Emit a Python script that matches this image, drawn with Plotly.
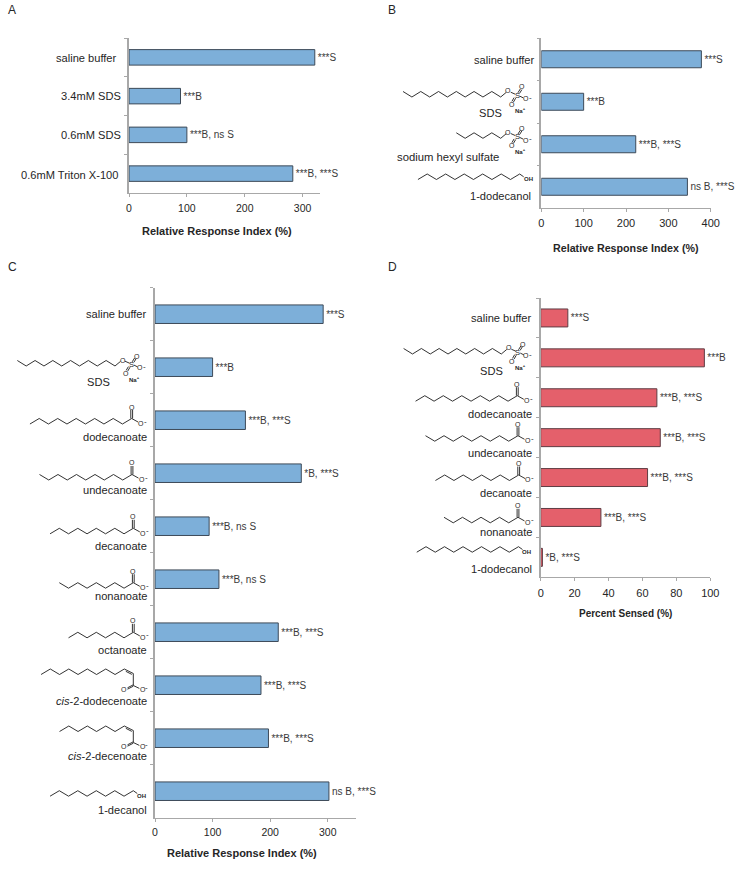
import plotly.graph_objects as go

W, H = 755, 872
FONT = "Liberation Sans, Arial, sans-serif"
BLUE, RED = "#7dafd9", "#e4606b"
EDGE_BLUE, EDGE_RED = "#3d4a58", "#5e3d44"
AXIS = "#a8a8a8"
INK = "#262626"

categories_a = ["saline buffer", "3.4mM SDS", "0.6mM SDS", "0.6mM Triton X-100"]
values_a = [321, 89, 100, 283]
notes_a = ["***S", "***B", "***B, ns S", "***B, ***S"]

categories_b = ["saline buffer", "SDS", "sodium hexyl sulfate", "1-dodecanol"]
values_b = [378, 100, 223, 345]
notes_b = ["***S", "***B", "***B, ***S", "ns B, ***S"]

categories_c = ["saline buffer", "SDS", "dodecanoate", "undecanoate", "decanoate", "nonanoate",
                "octanoate", "<i>cis</i>-2-dodecenoate", "<i>cis</i>-2-decenoate", "1-decanol"]
values_c = [292, 100, 157, 254, 94, 111, 214, 184, 197, 302]
notes_c = ["***S", "***B", "***B, ***S", "*B, ***S", "***B, ns S", "***B, ns S",
           "***B, ***S", "***B, ***S", "***B, ***S", "ns B, ***S"]

categories_d = ["saline buffer", "SDS", "dodecanoate", "undecanoate", "decanoate", "nonanoate", "1-dodecanol"]
values_d = [16, 96.5, 68.5, 70.5, 63, 35.5, 1]
notes_d = ["***S", "***B", "***B, ***S", "***B, ***S", "***B, ***S", "***B, ***S", "*B, ***S"]

ticks_a = [0, 100, 200, 300]
ticks_b = [0, 100, 200, 300, 400]
ticks_c = [0, 100, 200, 300]
ticks_d = [0, 20, 40, 60, 80, 100]
axis_title = "Relative Response Index (%)"
axis_title_d = "Percent Sensed (%)"


def px(x):
    return x / W


def py(y):
    return 1 - y / H


fig = go.Figure()
shapes, notes = [], []


def panel(idx, cats, vals, labels, color, edge, gap, xr, ticks, xpx, ypx, tick_size):
    sx = "" if idx == 1 else str(idx)
    fig.add_trace(go.Bar(
        y=cats, x=vals, orientation="h", text=labels, textposition="outside", cliponaxis=False,
        constraintext="none", textangle=0,
        textfont=dict(family=FONT, size=10, color="#3a3a3a"),
        marker=dict(color=color, line=dict(color=edge, width=1)),
        xaxis="x" + sx, yaxis="y" + sx, showlegend=False, hoverinfo="skip"))
    fig.update_layout(**{
        "xaxis" + sx: dict(domain=[px(xpx[0]), px(xpx[1])], range=xr, tickmode="array", tickvals=ticks,
                           showgrid=False, zeroline=False, showline=True, linecolor=AXIS, linewidth=1,
                           ticks="outside", ticklen=3, tickcolor=AXIS, ticklabelstandoff=2,
                           tickfont=dict(family=FONT, size=tick_size, color=INK), anchor="y" + sx),
        "yaxis" + sx: dict(domain=[py(ypx[1]), py(ypx[0])], type="category", categoryorder="array",
                           categoryarray=cats, autorange="reversed", tickson="boundaries",
                           showgrid=False, zeroline=False, showline=True, linecolor=AXIS, linewidth=1.5,
                           ticks="outside", ticklen=3, tickcolor=AXIS, showticklabels=False,
                           anchor="x" + sx),
    })
    fig.data[-1].width = 1 - gap


def text(x, y, s, size=11.1, anchor="center", color=INK, bold=False):
    notes.append(dict(x=px(x), y=py(y), xref="paper", yref="paper", text=f"<b>{s}</b>" if bold else s,
                      showarrow=False, xanchor=anchor, yanchor="middle", borderpad=0, borderwidth=0,
                      font=dict(family=FONT, size=size, color=color)))


def line(pts, width=0.9):
    path = "M " + " L ".join(f"{px(a):.5f} {py(b):.5f}" for a, b in pts)
    shapes.append(dict(type="path", path=path, xref="paper", yref="paper",
                       line=dict(color="#1c1c1c", width=width), layer="above"))


def zigzag(x, y, bonds, dx=9.25, dy=5.5, odd_up=False):
    sign = -1 if odd_up else 1
    return [(x - i * dx, y + (sign * dy if i % 2 else 0)) for i in range(bonds + 1)]


def atom(x, y, s, size=7):
    text(x, y, s, size=size)


def carboxylate(x, y, bonds):
    line(zigzag(x, y, bonds))
    line([(x - 0.9, y), (x - 0.9, y - 8.5)])
    line([(x + 0.9, y), (x + 0.9, y - 8.5)])
    line([(x, y), (x + 6.5, y + 3.6)])
    atom(x, y - 11.5, "O")
    atom(x + 9.5, y + 4.8, "O")
    atom(x + 14.2, y + 2.6, "-", 8)


def sulfate(x, y, bonds):
    line(zigzag(x, y, bonds, dx=8.88, odd_up=True))
    line([(x, y), (x + 5.5, y - 4.6)])
    atom(x + 7.6, y - 6, "O")
    line([(x + 10, y - 4.8), (x + 14.5, y - 2.8)])
    atom(x + 16.5, y - 2, "S", 7.5)
    line([(x + 17.2, y - 4.2), (x + 19.6, y - 8)])
    line([(x + 18.8, y - 3.6), (x + 21.2, y - 7.4)])
    atom(x + 21.5, y - 10, "O")
    line([(x + 19, y - 0.9), (x + 22.6, y + 0.9)])
    atom(x + 25, y + 1.8, "O")
    atom(x + 29.6, y + 0.2, "-", 8)
    line([(x + 13.4, y + 0.6), (x + 11.2, y + 4.4)])
    line([(x + 15, y + 1.2), (x + 12.8, y + 5)])
    atom(x + 11, y + 7.2, "O")
    text(x + 19.4, y + 13, "<b>Na<sup>+</sup></b>", size=6)


def alcohol(x, y, bonds):
    line(zigzag(x, y, bonds))
    line([(x, y), (x + 4, y + 2.8)])
    text(x + 8.4, y + 5, "<b>OH</b>", size=6)


def enoate(x, y, bonds):
    line(zigzag(x, y, bonds))
    line([(x, y), (x + 9, y + 4.5), (x + 9, y + 16.5)])
    line([(x + 1.5, y + 2.3), (x + 7.5, y + 5.4)])
    line([(x + 9, y + 15.8), (x + 3.2, y + 18.8)])
    line([(x + 9, y + 17.2), (x + 3.2, y + 20.2)])
    line([(x + 9, y + 16.5), (x + 15, y + 19.4)])
    atom(x + 0.2, y + 20.6, "O")
    atom(x + 18.4, y + 20.6, "O")
    atom(x + 22.6, y + 18.6, "-", 8)


panel(1, categories_a, values_a, notes_a, BLUE, EDGE_BLUE, 0.6, [0, 330], ticks_a, (129, 320), (38, 193), 10.5)
panel(2, categories_b, values_b, notes_b, BLUE, EDGE_BLUE, 0.6, [0, 400], ticks_b, (541.3, 710.7), (38, 208), 11)
panel(3, categories_c, values_c, notes_c, BLUE, EDGE_BLUE, 0.65, [0, 349], ticks_c, (155, 356), (287.7, 817.7), 10.5)
panel(4, categories_d, values_d, notes_d, RED, EDGE_RED, 0.55, [0, 100], ticks_d, (540.7, 710.3), (298, 577.3), 11)

# Panel letters and axis titles
for x, y, s in [(12, 10, "A"), (392, 10, "B"), (12, 267, "C"), (392, 267, "D")]:
    text(x, y, s, size=12)
text(217.5, 230.7, axis_title, size=11, bold=True)
text(625.5, 248, axis_title, size=10.7, bold=True)
text(242, 853, axis_title, size=11, bold=True)
text(625, 613, axis_title_d, size=10, bold=True)

# Category labels
for c, y, r in zip(categories_a, [57.5, 96.5, 135.5, 174.5], [117, 121, 121, 118]):
    text(r, y, c, anchor="right")
text(535.3, 59.5, categories_b[0], anchor="right")
text(490.3, 113.3, categories_b[1])
text(498.5, 157, categories_b[2], size=11.3, anchor="right")
text(531.3, 195.7, categories_b[3], anchor="right")
for c, y in zip(categories_c, [314, 382.3, 437.3, 489.7, 546, 596.3, 649.7, 701, 756, 809.7]):
    if c == "SDS":
        text(98.7, y, c)
    else:
        text(146.5, y, c, anchor="right")
for c, y in zip(categories_d, [318.3, 370.7, 413.7, 452.7, 493.3, 532.3, 569.3]):
    if c == "SDS":
        text(491.3, y, c)
    else:
        text(532.3, y, c, anchor="right")

# Structures
sulfate(500.7, 97, 11)
sulfate(500.7, 138.3, 5)
alcohol(519.7, 174, 11)

sulfate(115, 366, 11)
carboxylate(131.7, 418.5, 11)
carboxylate(132, 474.5, 10)
carboxylate(133.3, 528.3, 9)
carboxylate(133.3, 582.7, 8)
carboxylate(133.3, 632.3, 7)
enoate(124.3, 669, 9)
enoate(124.3, 726, 7)
alcohol(133.3, 790.7, 9)

sulfate(501.3, 354, 11)
carboxylate(517.3, 395.7, 11)
carboxylate(518, 435.7, 10)
carboxylate(518.7, 475, 9)
carboxylate(518, 517.3, 8)
alcohol(518.5, 546.7, 11)

fig.update_layout(width=W, height=H, autosize=False,
                  margin=dict(l=0, r=0, t=0, b=0, pad=0, autoexpand=False),
                  paper_bgcolor="white", plot_bgcolor="white", showlegend=False,
                  shapes=shapes, annotations=notes)
fig.write_html("out.html", config={"displayModeBar": False},
               post_script="document.body.style.margin='0';document.body.style.overflow='hidden';")
